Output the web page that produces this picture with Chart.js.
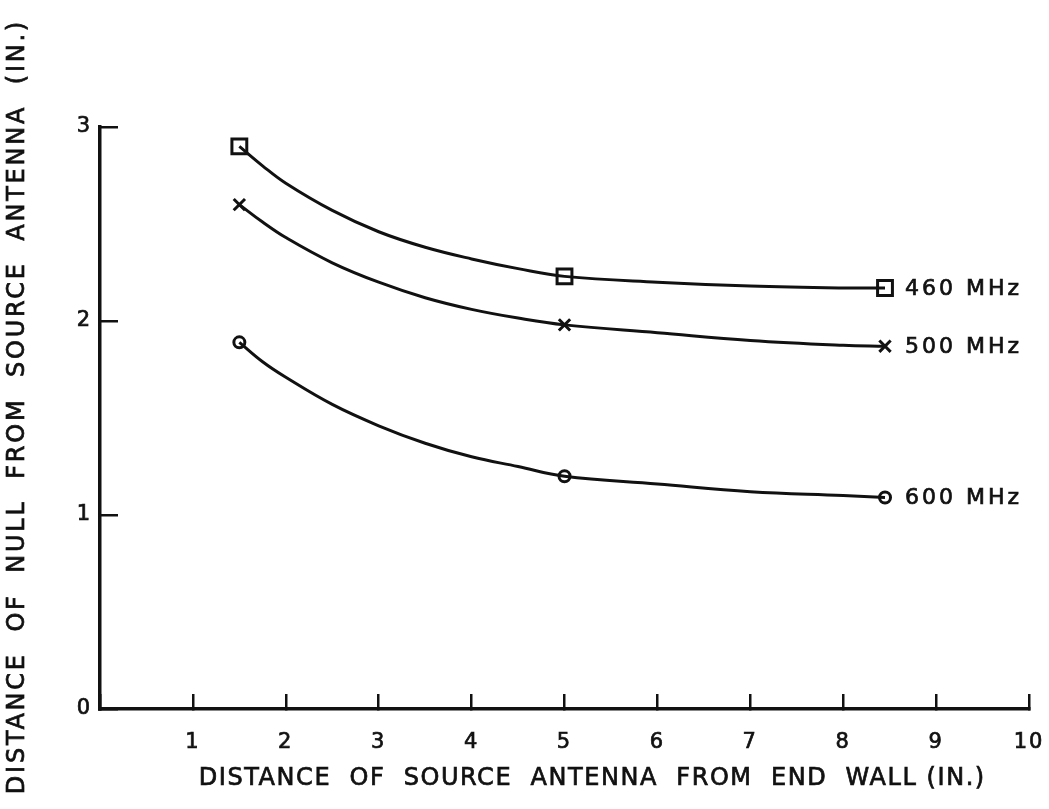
<!DOCTYPE html>
<html>
<head>
<meta charset="utf-8">
<script src="https://cdn.jsdelivr.net/npm/chart.js@4/dist/chart.umd.min.js"></script>
<style>
  html, body { margin: 0; padding: 0; background: #fff; }
  #wrap { position: relative; width: 1049px; height: 809px; }
</style>
</head>
<body>
<div id="wrap"><canvas id="c" width="1049" height="809"></canvas></div>
<script>
// Measured points: source antenna distance from end wall (in.)
const sourceDistance = [1.5, 5, 8.45];
// Distance of null from source antenna (in.) for each frequency
const null460 = [2.90, 2.23, 2.17];
const null500 = [2.60, 1.98, 1.87];
const null600 = [1.89, 1.20, 1.09];

// Faired curves drawn through the measurements
const curveX = [1.5, 1.75, 2, 2.5, 3, 3.5, 4, 4.5, 5, 6, 7, 8, 8.45];
const curve460 = [2.90, 2.80, 2.71, 2.57, 2.46, 2.38, 2.32, 2.27, 2.23, 2.20, 2.18, 2.17, 2.17];
const curve500 = [2.60, 2.51, 2.43, 2.30, 2.20, 2.12, 2.06, 2.015, 1.98, 1.94, 1.90, 1.875, 1.87];
const curve600 = [1.89, 1.79, 1.71, 1.57, 1.46, 1.37, 1.30, 1.25, 1.20, 1.16, 1.12, 1.10, 1.09];

const seriesLabels = ['460 MHz', '500 MHz', '600 MHz'];
const xTicks = [1, 2, 3, 4, 5, 6, 7, 8, 9, 10];
const yTicks = [0, 1, 2, 3];
const xTitle = 'DISTANCE  OF  SOURCE  ANTENNA  FROM  END  WALL (IN.)';
const yTitle = 'DISTANCE  OF  NULL  FROM  SOURCE  ANTENNA  (IN.)';

const INK = '#111';
const FONT = 'DejaVu Sans';
const PEN = 0.7; // extra stroke for the inked lettering

function pts(xs, ys) { return xs.map((x, i) => ({ x: x, y: ys[i] })); }

function curveSet(data) {
  return {
    type: 'line', data: pts(curveX, data), borderColor: INK, borderWidth: 3,
    pointRadius: 0, tension: 0.4, fill: false, clip: false
  };
}
function markerSet(label, data, style, radius) {
  return {
    type: 'scatter', label: label, data: pts(sourceDistance, data), showLine: false,
    pointStyle: style, pointRadius: radius, pointBorderWidth: 3,
    pointBorderColor: INK, pointBackgroundColor: '#fff', clip: false
  };
}

function inkText(ctx, text, x, y) {
  ctx.fillText(text, x, y);
  ctx.strokeText(text, x, y);
}

// Draws text with letter spacing chosen so it spans the given length
function spacedText(ctx, text, cx, cy, span) {
  ctx.letterSpacing = '0px';
  const w = ctx.measureText(text).width;
  const sp = Math.max(0, (span - w) / text.length);
  ctx.letterSpacing = sp + 'px';
  inkText(ctx, text, cx + sp / 2, cy);
}

// Axis titles in the wide lettering style
const axisTitles = {
  id: 'axisTitles',
  afterDraw(chart) {
    const ctx = chart.ctx, a = chart.chartArea;
    ctx.save();
    ctx.fillStyle = INK;
    ctx.strokeStyle = INK;
    ctx.lineWidth = PEN;
    ctx.font = '24px ' + FONT;
    ctx.textAlign = 'center';
    ctx.textBaseline = 'middle';
    spacedText(ctx, xTitle, (a.left + a.right) / 2 + 27, a.bottom + 70, 787);
    ctx.translate(18, (a.top + a.bottom) / 2 - 10);
    ctx.rotate(-Math.PI / 2);
    spacedText(ctx, yTitle, 0, 0, 775);
    ctx.restore();
  }
};

// Frequency labels written just right of each curve's last point
const endLabels = {
  id: 'endLabels',
  afterDatasetsDraw(chart) {
    const ctx = chart.ctx;
    ctx.save();
    ctx.fillStyle = INK;
    ctx.strokeStyle = INK;
    ctx.lineWidth = PEN;
    ctx.font = '22px ' + FONT;
    ctx.letterSpacing = '3px';
    ctx.textBaseline = 'middle';
    ctx.textAlign = 'left';
    [3, 4, 5].forEach((di, i) => {
      const meta = chart.getDatasetMeta(di);
      const p = meta.data[meta.data.length - 1];
      inkText(ctx, seriesLabels[i], p.x + 20, p.y + 1);
    });
    ctx.restore();
  }
};

// Slightly spaced tick lettering
const lettering = {
  id: 'lettering',
  beforeDraw(chart) { chart.ctx.letterSpacing = '2px'; }
};

const tickFont = { family: FONT, size: 21 };

new Chart(document.getElementById('c'), {
  data: {
    datasets: [
      curveSet(curve460), curveSet(curve500), curveSet(curve600),
      markerSet(seriesLabels[0], null460, 'rect', 10.5),
      markerSet(seriesLabels[1], null500, 'crossRot', 8),
      markerSet(seriesLabels[2], null600, 'circle', 5.5)
    ]
  },
  options: {
    responsive: false,
    animation: false,
    layout: { padding: { top: 127, right: 20, left: 0, bottom: 0 } },
    plugins: { legend: { display: false }, tooltip: { enabled: false } },
    scales: {
      x: {
        type: 'linear', min: 0, max: 10,
        afterFit(s) { s.height = 100; s.paddingLeft = 0; s.paddingRight = 0; },
        afterBuildTicks(s) { s.ticks = [0].concat(xTicks).map(v => ({ value: v })); },
        border: { display: true, color: INK, width: 3.5 },
        grid: { drawOnChartArea: false, drawTicks: true, tickLength: -15, color: INK, lineWidth: 2.5 },
        ticks: {
          color: INK, font: tickFont, padding: 36, maxRotation: 0,
          textStrokeColor: INK, textStrokeWidth: PEN,
          callback: v => (v === 0 ? '' : String(v))
        },
        title: { display: false }
      },
      y: {
        type: 'linear', min: 0, max: 3,
        afterFit(s) { s.width = 100; s.paddingTop = 0; s.paddingBottom = 0; },
        afterBuildTicks(s) { s.ticks = yTicks.map(v => ({ value: v })); },
        border: { display: true, color: INK, width: 3.5 },
        grid: { drawOnChartArea: false, drawTicks: true, tickLength: -18, color: INK, lineWidth: 2.5 },
        ticks: {
          color: INK, font: tickFont, padding: 26,
          textStrokeColor: INK, textStrokeWidth: PEN
        },
        title: { display: false }
      }
    }
  },
  plugins: [lettering, axisTitles, endLabels]
});
</script>
</body>
</html>
